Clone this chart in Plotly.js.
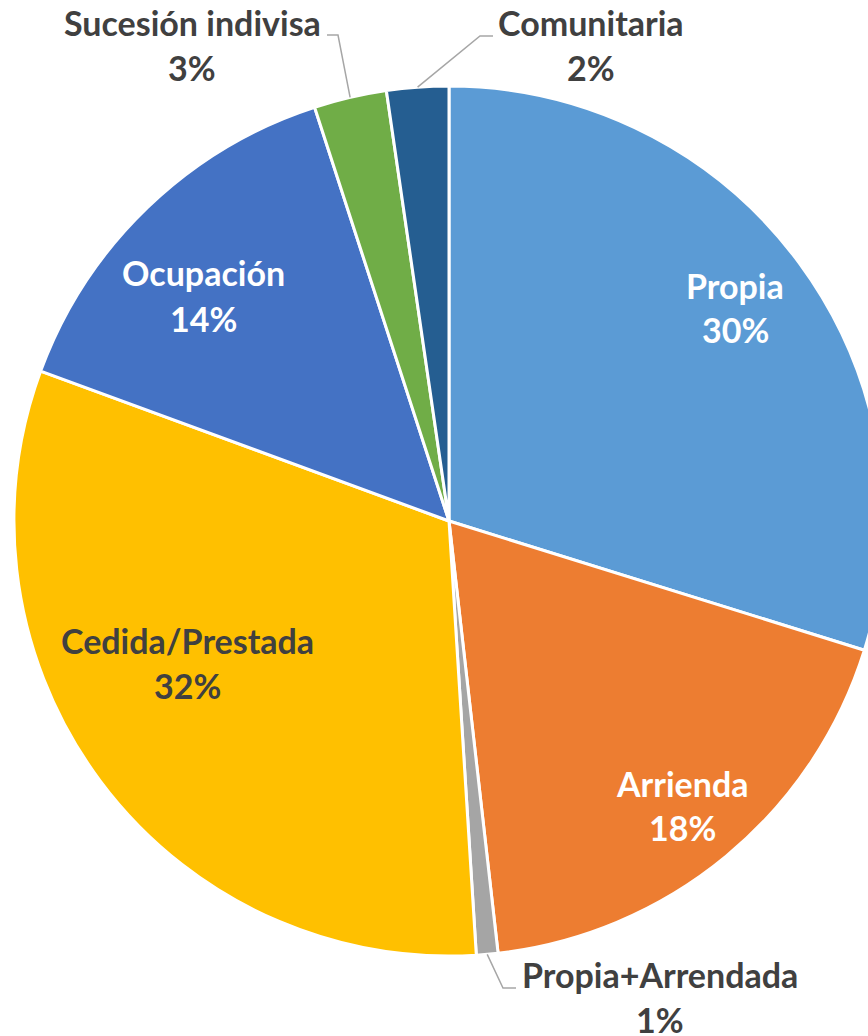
<!DOCTYPE html>
<html>
<head>
<meta charset="utf-8">
<script src="https://cdn.plot.ly/plotly-3.0.1.min.js"></script>
<style>
  html, body { margin: 0; padding: 0; overflow: hidden; background: #ffffff; }
  #chart { width: 884px; height: 1036px; }
</style>
</head>
<body>
<div id="chart"></div>
<script>
// ---- data ----
const categories = ['Propia', 'Arrienda', 'Propia+Arrendada', 'Cedida/Prestada', 'Ocupación', 'Sucesión indivisa', 'Comunitaria'];
const shares = [29.8, 18.4, 0.8, 31.6, 14.4, 2.7, 2.3];

// ---- style ----
const sliceColors = ['#5B9BD5', '#ED7D31', '#A5A5A5', '#FFC000', '#4472C4', '#70AD47', '#255E91'];
const textColors = ['#FFFFFF', '#FFFFFF', '#404040', '#404040', '#FFFFFF', '#404040', '#404040'];
// label line centres in pixels (layout only): [x, yName, yPct]
const labelPx = [
  [735, 285, 329],
  [682, 783, 827],
  [660, 974, 1019],
  [187, 640, 685],
  [203, 273, 318],
  [192, 23, 68],
  [591, 23, 67]
];
// leader lines: index -> pixel points (elbow, end) ; start is computed on the pie edge
const leaders = {
  2: [[503, 988], [516, 988]],
  5: [[338, 35], [327, 35]],
  6: [[480, 36], [493, 36]]
};

const W = 884, H = 1036;
const M = {l: 14, r: 0, t: 86, b: 80};
const PW = W - M.l - M.r, PH = H - M.t - M.b;
const px2x = px => (px - M.l) / PW;
const py2y = py => (H - M.b - py) / PH;

const total = shares.reduce((a, b) => a + b, 0);
const annotations = [];
const shapes = [];
const fontFamily = 'Lato, "Open Sans", sans-serif';
const fs = 34;
let cum = 0;
shares.forEach((v, i) => {
  const mid = (cum + v / 2) / total * 2 * Math.PI;
  cum += v;
  const pct = Math.round(v / total * 100) + '%';
  const [lx, ly1, ly2] = labelPx[i];
  const font = {family: fontFamily, size: fs, color: textColors[i], weight: 'bold'};
  annotations.push({xref: 'paper', yref: 'paper', x: px2x(lx), y: py2y(ly1), text: '<b>' + categories[i] + '</b>',
    showarrow: false, xanchor: 'center', yanchor: 'middle', font: font});
  annotations.push({xref: 'paper', yref: 'paper', x: px2x(lx), y: py2y(ly2), text: '<b>' + pct + '</b>',
    showarrow: false, xanchor: 'center', yanchor: 'middle', font: font});
  if (leaders[i]) {
    const sx = 0.5 + 0.5 * Math.sin(mid);
    const sy = 0.5 + 0.5 * Math.cos(mid);
    const pts = [[sx, sy]].concat(leaders[i].map(p => [px2x(p[0]), py2y(p[1])]));
    shapes.push({type: 'path', xref: 'paper', yref: 'paper',
      path: 'M ' + pts.map(p => p[0] + ',' + p[1]).join(' L '),
      line: {color: '#A6A6A6', width: 1.5}});
  }
});

const trace = {
  type: 'pie',
  labels: categories,
  values: shares,
  sort: false,
  direction: 'clockwise',
  rotation: 0,
  textinfo: 'none',
  hoverinfo: 'label+percent',
  marker: {colors: sliceColors, line: {color: '#FFFFFF', width: 3}},
  showlegend: false
};

const layout = {
  width: W, height: H,
  margin: M,
  paper_bgcolor: '#FFFFFF',
  showlegend: false,
  annotations: annotations,
  shapes: shapes
};

Plotly.newPlot('chart', [trace], layout, {displayModeBar: false, staticPlot: true});
</script>
</body>
</html>
